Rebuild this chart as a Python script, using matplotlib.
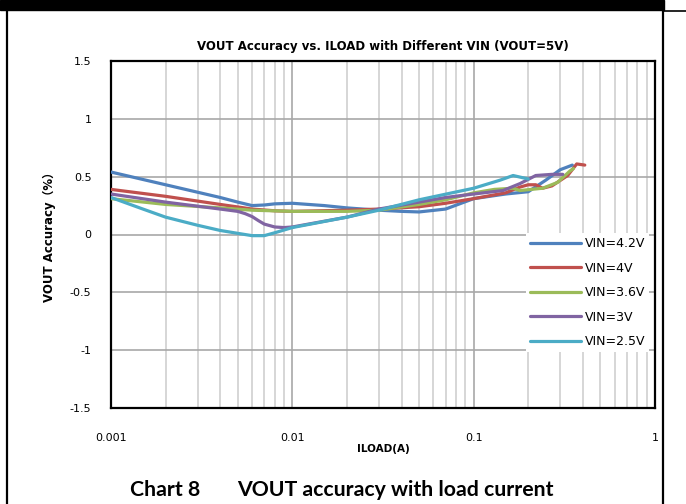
import matplotlib
matplotlib.use("Agg")
import matplotlib.pyplot as plt
from matplotlib.lines import Line2D
from matplotlib.patches import Rectangle
from matplotlib.ticker import FixedLocator, NullFormatter, LogLocator

plt.rcParams['font.family'] = ['DejaVu Sans', 'Noto Sans CJK SC']

# ---- data ----
i_42 = [0.001, 0.002, 0.004, 0.005, 0.006, 0.007, 0.008, 0.01, 0.015, 0.02, 0.03, 0.04, 0.05, 0.07, 0.1, 0.15, 0.2, 0.25, 0.3, 0.35]
v_42 = [0.54, 0.43, 0.32, 0.28, 0.25, 0.255, 0.265, 0.27, 0.25, 0.23, 0.21, 0.2, 0.195, 0.22, 0.31, 0.35, 0.37, 0.47, 0.56, 0.6]

i_40 = [0.001, 0.002, 0.004, 0.006, 0.008, 0.01, 0.02, 0.03, 0.05, 0.07, 0.1, 0.15, 0.18, 0.2, 0.22, 0.24, 0.27, 0.33, 0.37, 0.41]
v_40 = [0.39, 0.33, 0.26, 0.22, 0.205, 0.2, 0.21, 0.22, 0.24, 0.27, 0.31, 0.36, 0.41, 0.43, 0.43, 0.40, 0.42, 0.51, 0.61, 0.6]

i_36 = [0.001, 0.002, 0.004, 0.006, 0.01, 0.02, 0.03, 0.05, 0.07, 0.1, 0.13, 0.165, 0.18, 0.24, 0.29, 0.34, 0.355]
v_36 = [0.31, 0.26, 0.23, 0.21, 0.2, 0.2, 0.21, 0.26, 0.3, 0.36, 0.39, 0.40, 0.38, 0.40, 0.45, 0.55, 0.57]

i_30 = [0.001, 0.002, 0.004, 0.005, 0.0055, 0.006, 0.0065, 0.007, 0.008, 0.009, 0.01, 0.02, 0.03, 0.05, 0.07, 0.1, 0.145, 0.18, 0.22, 0.27, 0.31]
v_30 = [0.35, 0.28, 0.22, 0.2, 0.18, 0.155, 0.12, 0.09, 0.065, 0.06, 0.065, 0.15, 0.22, 0.28, 0.32, 0.35, 0.38, 0.44, 0.51, 0.52, 0.52]

i_25 = [0.001, 0.0015, 0.002, 0.003, 0.004, 0.005, 0.006, 0.007, 0.008, 0.01, 0.02, 0.03, 0.05, 0.1, 0.14, 0.165, 0.2]
v_25 = [0.32, 0.22, 0.15, 0.08, 0.035, 0.01, -0.01, -0.01, 0.015, 0.06, 0.15, 0.21, 0.30, 0.40, 0.47, 0.51, 0.48]

series = [
    ("VIN=4.2V", i_42, v_42, "#4F81BD"),
    ("VIN=4V", i_40, v_40, "#C0504D"),
    ("VIN=3.6V", i_36, v_36, "#9BBB59"),
    ("VIN=3V", i_30, v_30, "#8064A2"),
    ("VIN=2.5V", i_25, v_25, "#4BACC6"),
]

y_ticks = [-1.5, -1, -0.5, 0, 0.5, 1, 1.5]
y_tick_labels = ["-1.5", "-1", "-0.5", "0", "0.5", "1", "1.5"]
x_ticks = [0.001, 0.01, 0.1, 1]
x_tick_labels = ["0.001", "0.01", "0.1", "1"]

# ---- figure ----
W, H = 686, 504
fig = plt.figure(figsize=(W / 100, H / 100), dpi=100)
ax = fig.add_axes([111 / W, 1 - 408 / H, (655 - 111) / W, (408 - 61) / H])

ax.set_xscale('log')
ax.set_xlim(0.001, 1)
ax.set_ylim(-1.5, 1.5)

for name, xs, ys, c in series:
    ax.plot(xs, ys, color=c, lw=2.3, label=name, solid_joinstyle='round',
            solid_capstyle='round', zorder=3)

ax.xaxis.set_major_locator(FixedLocator(x_ticks))
ax.set_xticklabels(x_tick_labels)
ax.xaxis.set_minor_locator(LogLocator(base=10, subs=range(2, 10)))
ax.xaxis.set_minor_formatter(NullFormatter())
ax.set_yticks(y_ticks)
ax.set_yticklabels(y_tick_labels)

ax.grid(True, which='minor', axis='x', color='#d0d0d0', lw=1.2, zorder=0)
ax.grid(True, which='major', axis='x', color='#a8a8a8', lw=1.2, zorder=0)
ax.grid(True, which='major', axis='y', color='#a8a8a8', lw=1.2, zorder=0)
ax.set_axisbelow(True)

ax.tick_params(axis='both', which='both', length=0)
ax.tick_params(axis='x', pad=18, labelsize=8)
ax.tick_params(axis='y', pad=14, labelsize=8)
for sp in ax.spines.values():
    sp.set_color('black')
    sp.set_linewidth(1.6)

ax.set_title("VOUT Accuracy vs. ILOAD with Different VIN (VOUT=5V)",
             fontsize=8.5, fontweight='bold', pad=8)
ax.set_xlabel("ILOAD(A)", fontsize=7.5, fontweight='bold', labelpad=1)
ax.set_ylabel("VOUT Accuracy（%）", fontsize=8.5, fontweight='bold', labelpad=10)

leg = ax.legend(loc='upper left', bbox_to_anchor=(0.763, 0.503), frameon=True,
                fontsize=9, handlelength=4.1, handletextpad=0.3,
                labelspacing=0.92, borderpad=0.3, borderaxespad=0)
leg.get_frame().set_edgecolor('none')
leg.get_frame().set_facecolor('white')
leg.get_frame().set_alpha(1)
leg.get_frame().set_boxstyle('square', pad=0)
for lh in leg.get_lines():
    lh.set_linewidth(2.3)

# caption
fig.text(130 / W, 1 - 490 / H, "Chart 8", ha='left', va='center',
         fontsize=15.3, fontweight='bold', family='Lato')
fig.text(237 / W, 1 - 490 / H, "VOUT accuracy with load current", ha='left', va='center',
         fontsize=15.3, fontweight='bold', family='Lato')

# page frame
fig.patches.append(Rectangle((0, 1 - 10 / H), 664 / W, 10 / H, transform=fig.transFigure,
                             color='black', zorder=10))
fig.lines.append(Line2D([664 / W, 1], [1 - 10.5 / H, 1 - 10.5 / H], transform=fig.transFigure,
                        color='black', lw=1.2))
fig.lines.append(Line2D([7 / W, 7 / W], [0, 1 - 10 / H], transform=fig.transFigure,
                        color='black', lw=1.6))
fig.lines.append(Line2D([663 / W, 663 / W], [0, 1 - 10 / H], transform=fig.transFigure,
                        color='black', lw=1.6))

fig.savefig("out.png", dpi=100)
